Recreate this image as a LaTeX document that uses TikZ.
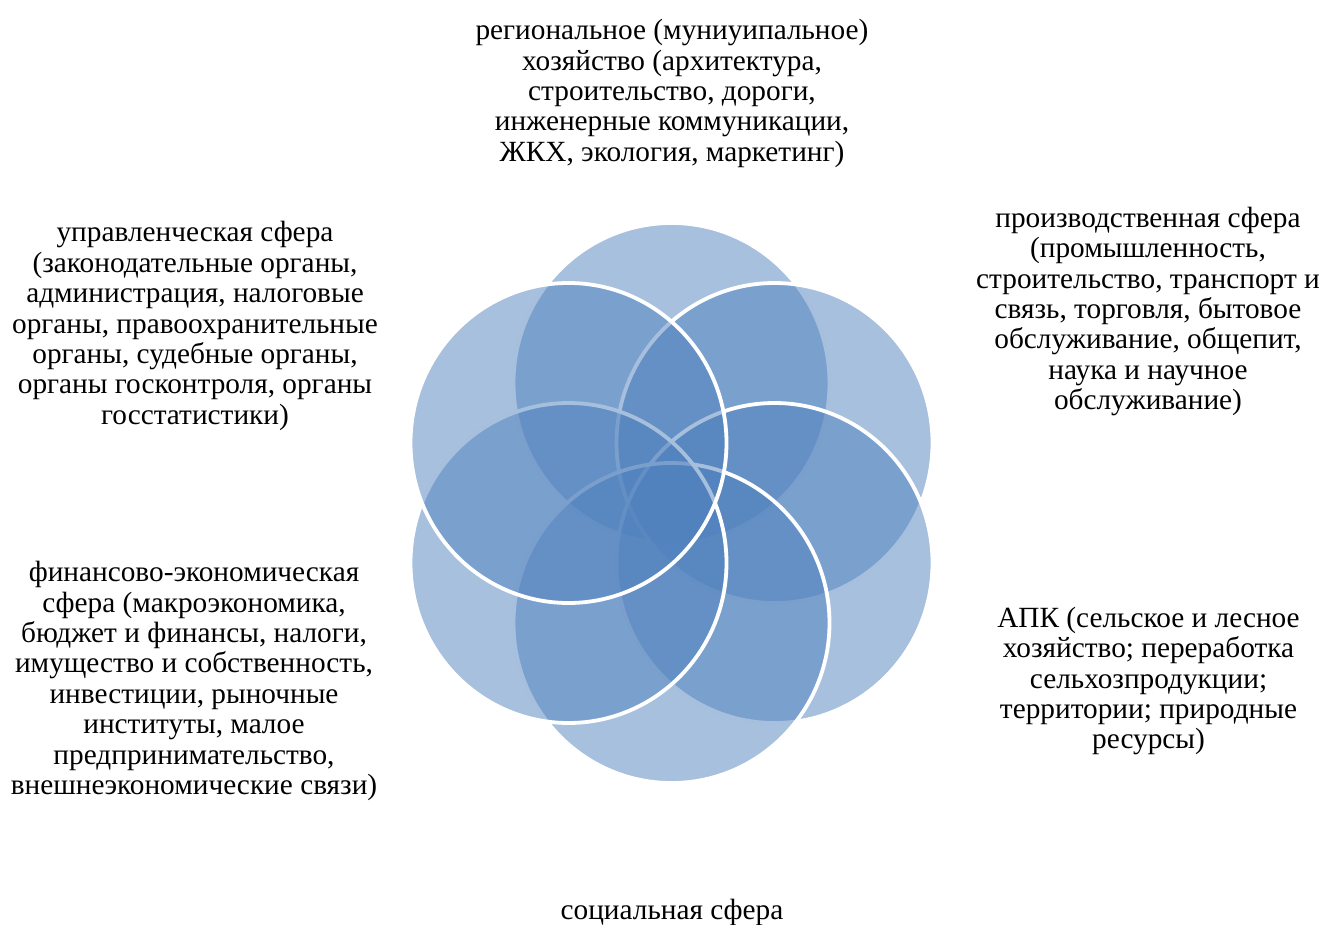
\documentclass[tikz,border=0pt]{standalone}
\usepackage{fontspec}
\setmainfont{Liberation Serif}
\usetikzlibrary{shapes.geometric,calc}
\definecolor{vennblue}{RGB}{79,129,189}
\begin{document}
\begin{tikzpicture}[x=1pt,y=-1pt,
  petal/.style={ellipse, inner sep=0pt, minimum width=316pt, minimum height=320pt,
    fill=vennblue, fill opacity=0.5, draw=white, line width=3.8pt},
  lbl/.style={align=center, inner sep=0pt, text=black,
    font=\fontsize{29.3}{30.4}\selectfont}]
\useasboundingbox (0,0) rectangle (1324,925);
\coordinate (c) at (671.5,503);
% six overlapping petals, drawn clockwise from the top
\node[petal] (top)  at ($(c)+(0,-120)$)     {};
\node[petal] (tr)   at ($(c)+(103,-60)$)    {};
\node[petal] (br)   at ($(c)+(103,60)$)     {};
\node[petal] (bot)  at ($(c)+(0,120)$)      {};
\node[petal] (bl)   at ($(c)+(-103,60)$)    {};
\node[petal] (tl)   at ($(c)+(-103,-60)$)   {};
% labels around the petals
\node[lbl] (ltop) at (672,93.5) {региональное (муниуипальное)\\хозяйство (архитектура,\\строительство, дороги,\\инженерные коммуникации,\\ЖКХ, экология, маркетинг)};
\node[lbl] (ltr) at (1148,311.5) {производственная сфера\\(промышленность,\\строительство, транспорт и\\связь, торговля, бытовое\\обслуживание, общепит,\\наука и научное\\обслуживание)};
\node[lbl] (lbr) at (1148.5,681) {АПК (сельское и лесное\\хозяйство; переработка\\сельхозпродукции;\\территории; природные\\ресурсы)};
\node[lbl] (lbot) at (672,912) {социальная сфера};
\node[lbl] (lbl) at (194,681) {финансово-экономическая\\сфера (макроэкономика,\\бюджет и финансы, налоги,\\имущество и собственность,\\инвестиции, рыночные\\институты, малое\\предпринимательство,\\внешнеэкономические связи)};
\node[lbl] (ltl) at (195,326) {управленческая сфера\\(законодательные органы,\\администрация, налоговые\\органы, правоохранительные\\органы, судебные органы,\\органы госконтроля, органы\\госстатистики)};
\end{tikzpicture}
\end{document}
